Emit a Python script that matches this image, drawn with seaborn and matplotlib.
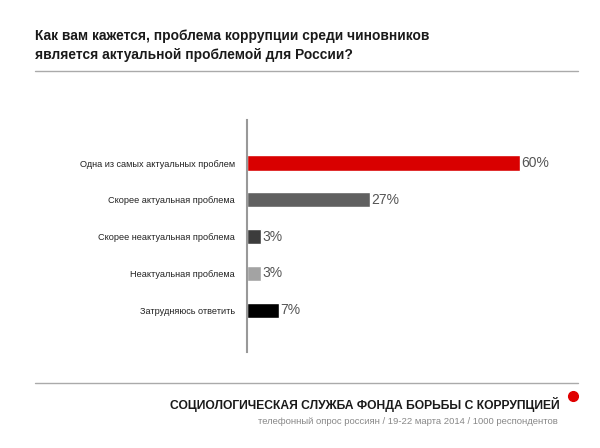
import pandas as pd
import seaborn as sns
import matplotlib.pyplot as plt
from matplotlib.lines import Line2D

# данные опроса
categories = [
    'Одна из самых актуальных проблем',
    'Скорее актуальная проблема',
    'Скорее неактуальная проблема',
    'Неактуальная проблема',
    'Затрудняюсь ответить',
]
values = [60, 27, 3, 3, 7]
bar_colors = ['#d90000', '#606060', '#3c3c3c', '#a3a3a3', '#000000']

TITLE = 'Как вам кажется, проблема коррупции среди чиновников\nявляется актуальной проблемой для России?'
FOOTER = 'СОЦИОЛОГИЧЕСКАЯ СЛУЖБА ФОНДА БОРЬБЫ С КОРРУПЦИЕЙ'
SOURCE = 'телефонный опрос россиян / 19-22 марта 2014 / 1000 респондентов'

sns.set_theme(style="white")
plt.rcParams['font.family'] = ['Liberation Sans', 'DejaVu Sans']

W, H = 600, 448
fig = plt.figure(figsize=(W / 100, H / 100), dpi=100)

def fx(px):
    return px / W

def fy(py):
    return 1 - py / H

ax = fig.add_axes([fx(247), fy(352), fx(578) - fx(247), fy(120) - fy(352)])

df = pd.DataFrame({'cat': categories, 'val': values})
sns.barplot(data=df, x='val', y='cat', hue='cat', palette=bar_colors,
            orient='h', width=0.41, legend=False, ax=ax, saturation=1)

ax.set_xlim(0, 331 / 4.55)
ax.set_ylim(5.14, -1.17)
ax.set_xlabel('')
ax.set_ylabel('')
ax.set_xticks([])
ax.tick_params(axis='y', length=0, pad=8.5, labelsize=6.6, labelcolor='#222222')
for s in ['top', 'right', 'bottom']:
    ax.spines[s].set_visible(False)
ax.spines['left'].set_color('#999999')
ax.spines['left'].set_linewidth(1.5)

for container in ax.containers:
    ax.bar_label(container, fmt='%d%%', padding=1, fontsize=10, color='#555555')

# заголовок и линии
fig.text(fx(35), fy(29), TITLE, ha='left', va='top', fontsize=9.9,
         fontweight='bold', color='#1a1a1a', linespacing=1.45)
fig.add_artist(Line2D([fx(35), fx(578)], [fy(71), fy(71)], color='#aaaaaa', lw=1))
fig.add_artist(Line2D([fx(35), fx(578)], [fy(383), fy(383)], color='#aaaaaa', lw=1))

# подвал
fig.text(fx(560), fy(405), FOOTER, ha='right', va='center', fontsize=8.7,
         fontweight='bold', color='#1a1a1a')
fig.text(fx(558), fy(421), SOURCE, ha='right', va='center', fontsize=6.8,
         color='#888888')
fig.add_artist(Line2D([fx(573)], [fy(396)], marker='o', markersize=7,
                      color='#e00000', lw=0))

fig.savefig('out.png', dpi=100)
